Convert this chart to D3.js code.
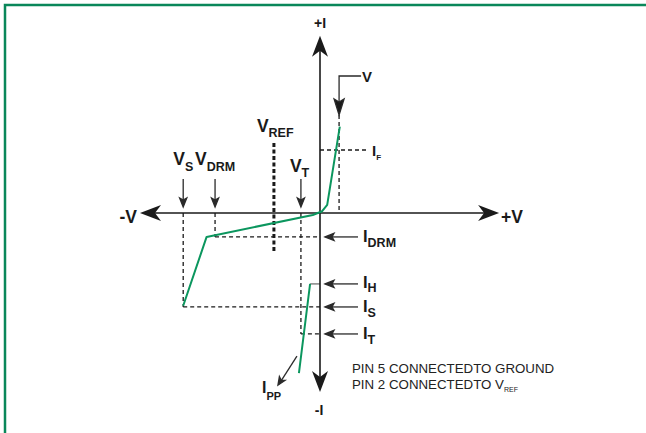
<!DOCTYPE html>
<html>
<head>
<meta charset="utf-8">
<script src="https://cdn.jsdelivr.net/npm/d3@7"></script>
<style>
  body { margin: 0; background: #fff; }
</style>
</head>
<body>
<div id="chart"></div>
<script>
// I-V characteristic, arbitrary units, both axes run -100..100
var mainCurve = [[11, 48], [4, 4.5], [1.2, 1], [-4, -1.1], [-63, -13.3], [-76, -51.5]];
var holdCurve = [[-5.5, -39.4], [-11.7, -89]];

// voltage markers
var vNames = ['S', 'DRM', 'REF', 'T', ''];
var vValues = [-76, -58.3, -25.6, -10.6, 10.6];

// current markers
var iNames = ['F', 'DRM', 'H', 'S', 'T'];
var iValues = [35, -13.3, -39.4, -52.2, -67.2];

var notes = ['PIN 5 CONNECTEDTO GROUND', 'PIN 2 CONNECTEDTO V'];

var W = 646, H = 433;
var font = '"Liberation Sans", Arial, Helvetica, sans-serif';
var ink = '#1a1a1a';
var green = '#0b965e';

var svg = d3.select('#chart').append('svg')
    .attr('width', W)
    .attr('height', H)
    .style('font-family', font);

var x = d3.scaleLinear().domain([-100, 100]).range([140, 500]);
var y = d3.scaleLinear().domain([-100, 100]).range([393, 33]);

var V = {}, I = {};
vNames.forEach(function(n, k) { V[n || 'V'] = vValues[k]; });
iNames.forEach(function(n, k) { I[n] = iValues[k]; });

// frame (only top and left edges show)
svg.append('path')
    .attr('d', 'M5,' + H + 'V5H' + W)
    .attr('fill', 'none')
    .attr('stroke', '#0a875a')
    .attr('stroke-width', 2.5);

// arrowhead with notch, tip at (tx,ty), pointing along ang
function head(g, tx, ty, ang, len, hw, notch, col) {
    var ux = Math.cos(ang), uy = Math.sin(ang);
    var px = -uy, py = ux;
    var bx = tx - ux * len, by = ty - uy * len;
    var nx = tx - ux * (len - notch), ny = ty - uy * (len - notch);
    g.append('path')
        .attr('d', 'M' + tx + ',' + ty +
            'L' + (bx + px * hw) + ',' + (by + py * hw) +
            'L' + nx + ',' + ny +
            'L' + (bx - px * hw) + ',' + (by - py * hw) + 'Z')
        .attr('fill', col);
}

function seg(g, x1, y1, x2, y2) {
    return g.append('line')
        .attr('x1', x1).attr('y1', y1)
        .attr('x2', x2).attr('y2', y2);
}

function label(g, tx, ty, main, sub, size, subSize, dy, anchor) {
    var t = g.append('text')
        .attr('x', tx).attr('y', ty)
        .attr('font-size', size)
        .attr('font-weight', 'bold')
        .attr('fill', ink)
        .attr('text-anchor', anchor || 'start');
    t.append('tspan').text(main);
    if (sub) {
        t.append('tspan').attr('dy', dy).attr('font-size', subSize).text(sub);
    }
    return t;
}

// dashed guides
var dash = svg.append('g')
    .attr('stroke', ink)
    .attr('stroke-width', 1.3)
    .attr('stroke-dasharray', '4,3')
    .attr('fill', 'none');

seg(dash, x(V.S), y(0), x(V.S), y(I.S));
seg(dash, x(V.S), y(I.S), x(0), y(I.S));
seg(dash, x(V.DRM), y(0), x(V.DRM), y(I.DRM));
seg(dash, x(V.DRM), y(I.DRM), x(0), y(I.DRM));
seg(dash, x(V.T), y(0), x(V.T), y(I.T));
seg(dash, x(V.T), y(I.T), x(0), y(I.T));
seg(dash, x(V.V), y(0) - 98, x(V.V), y(0));
seg(dash, x(0), y(I.F), x(0) + 46, y(I.F));
seg(dash, x(V.REF), y(0) - 70, x(V.REF), y(0) + 38)
    .attr('stroke-width', 3)
    .attr('stroke-dasharray', '4,2.5');
seg(svg, x(holdCurve[0][0]), y(I.H), x(0), y(I.H))
    .attr('stroke', '#666').attr('stroke-width', 1.2);

// axes
var ax = svg.append('g');
seg(ax, x(-100) + 10, y(0), x(100) - 10, y(0)).attr('stroke', ink).attr('stroke-width', 1.6);
seg(ax, x(0), y(98.5) + 10, x(0), y(-99.5) - 10).attr('stroke', ink).attr('stroke-width', 1.6);
head(ax, x(-100), y(0), Math.PI, 21, 8, 6, ink);
head(ax, x(99.5), y(0), 0, 21, 8, 6, ink);
head(ax, x(0), y(98.5), -Math.PI / 2, 21, 8, 6, ink);
head(ax, x(0), y(-99.5), Math.PI / 2, 21, 8, 6, ink);

label(ax, x(-100) - 3, y(0) + 10, '-V', null, 17.5, 0, 0, 'end');
label(ax, x(100) + 1, y(0) + 10, '+V', null, 17.5, 0, 0);
label(ax, x(0), 28, '+I', null, 14, 0, 0, 'middle');
label(ax, x(0) - 1, 415, '-I', null, 14, 0, 0, 'middle');

// curves
var line = d3.line().x(function(d) { return x(d[0]); }).y(function(d) { return y(d[1]); });
svg.append('path').datum(mainCurve)
    .attr('d', line)
    .attr('fill', 'none').attr('stroke', green).attr('stroke-width', 2)
    .attr('stroke-linejoin', 'round');
svg.append('path').datum(holdCurve)
    .attr('d', line)
    .attr('fill', 'none').attr('stroke', green).attr('stroke-width', 2);

// pointer arrows
var ptr = svg.append('g').attr('stroke', '#2a2a2a').attr('stroke-width', 1.3);
['S', 'DRM', 'T'].forEach(function(n) {
    seg(ptr, x(V[n]), y(0) - 34, x(V[n]), y(0) - 8);
    head(ptr, x(V[n]), y(0) - 6, Math.PI / 2, 9, 3.6, 2, '#2a2a2a');
});
['DRM', 'H', 'S', 'T'].forEach(function(n) {
    seg(ptr, x(0) + 38, y(I[n]), x(0) + 8, y(I[n]));
    head(ptr, x(0) + 5, y(I[n]), Math.PI, 9, 3.6, 2, '#2a2a2a');
});
// forward voltage bracket arrow
ptr.append('path')
    .attr('d', 'M' + (x(V.V) + 22) + ',76H' + x(V.V) + 'V' + (y(0) - 102))
    .attr('fill', 'none');
head(ptr, x(V.V), y(0) - 98, Math.PI / 2, 16, 5, 3, '#1a1a1a');
// I_PP arrow
var hx = x(holdCurve[1][0]), hy = y(holdCurve[1][1]);
seg(ptr, hx - 2, hy - 17, hx - 18, hy + 8);
head(ptr, hx - 21, hy + 12, Math.atan2(25, -16), 8, 3.4, 2, '#2a2a2a');

// labels
var lab = svg.append('g');
label(lab, x(V.S) - 10, 165, 'V', 'S', 17.5, 12.5, 6);
label(lab, x(V.DRM) - 20, 165, 'V', 'DRM', 17.5, 12.5, 6);
label(lab, x(V.REF) - 17, 132, 'V', 'REF', 17.5, 12.5, 5);
label(lab, x(V.T) - 11, 172, 'V', 'T', 17.5, 12.5, 5);
label(lab, x(V.V) + 23, 82, 'V', null, 15, 0, 0);
label(lab, x(0) + 52, 156, 'I', 'F', 15, 8, 4);
label(lab, x(0) + 43, y(I.DRM) + 5, 'I', 'DRM', 16.5, 12.5, 5);
label(lab, x(0) + 43, y(I.H) + 4, 'I', 'H', 16.5, 12.5, 4);
label(lab, x(0) + 43, y(I.S) + 5, 'I', 'S', 16.5, 12.5, 5);
label(lab, x(0) + 43, y(I.T) + 5, 'I', 'T', 16.5, 12.5, 5);
label(lab, hx - 37, hy + 20, 'I', 'PP', 16, 11, 7);

// pin notes
var nt = svg.append('g')
    .attr('font-size', 13.3)
    .attr('fill', '#222');
nt.append('text').attr('x', 352).attr('y', 373).text(notes[0]);
var n2 = nt.append('text').attr('x', 352).attr('y', 389);
n2.append('tspan').text(notes[1]);
n2.append('tspan').attr('dy', 3).attr('font-size', 7).text('REF');
</script>
</body>
</html>
